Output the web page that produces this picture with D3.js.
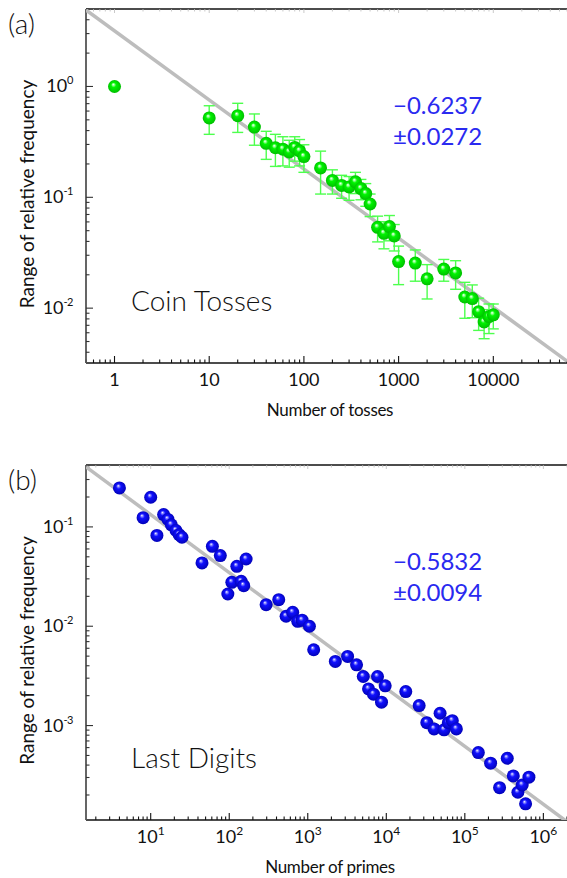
<!DOCTYPE html>
<html><head><meta charset="utf-8">
<script src="https://cdn.jsdelivr.net/npm/d3@7/dist/d3.min.js"></script>
<style>
html,body{margin:0;padding:0;background:#fff;}
svg text{font-family:Lato,"Open Sans",sans-serif;fill:#111;}
</style></head>
<body><svg id="c" width="567" height="878"></svg>
<script>
// ---- data: panel (a) coin tosses ----
const coinN     = [1,10,20,30,40,50,60,70,80,90,100,150,200,250,300,350,400,450,500,600,700,800,900,1000,1500,2000,3000,4000,5000,6000,7000,8000,9000,10000];
const coinRange = [1.0,0.52,0.545,0.43,0.307,0.28,0.272,0.257,0.282,0.262,0.233,0.184,0.142,0.128,0.124,0.138,0.12,0.108,0.087,0.0536,0.0473,0.0545,0.0448,0.0263,0.0255,0.0184,0.0225,0.0208,0.0126,0.0122,0.0093,0.0075,0.0084,0.0087];
const coinErr   = [0,0.15,0.16,0.135,0.087,0.09,0.08,0.07,0.07,0.07,0.065,0.077,0.035,0.03,0.03,0.03,0.025,0.025,0.02,0.014,0.013,0.014,0.012,0.01,0.008,0.0063,0.005,0.006,0.0045,0.004,0.003,0.0022,0.0025,0.0022];
const coinSlope = -0.6237, coinSlopeErr = 0.0272, coinPrefactor = 3.18;
const coinXTicks = [1,10,100,1000,10000];
const coinXTickLabels = ["1","10","100","1000","10000"];
const coinYTicks = [1,0.1,0.01];
const coinYExp = ["0","-1","-2"];

// ---- data: panel (b) last digits of primes ----
const primeN = [4,8,10,12,14.6,16.6,18.3,21,23,25,45,61,77,96,108,125,142,153,164,295,427,530,643,745,847,1050,1190,2244,3215,4180,5090,5940,6870,7730,8690,9680,17700,26200,32800,40600,48400,54400,61700,69300,78000,148600,213000,277000,347000,414000,474000,538000,594000,655000];
const primeRange = [0.247,0.124,0.199,0.082,0.133,0.119,0.105,0.092,0.0836,0.0787,0.0434,0.0638,0.0514,0.0211,0.0277,0.0401,0.0283,0.0256,0.0475,0.0165,0.0185,0.0126,0.0138,0.0112,0.0115,0.0100,0.0058,0.00442,0.00497,0.00409,0.00312,0.00234,0.00207,0.00312,0.00172,0.00251,0.0022,0.00159,0.00107,0.000926,0.00133,0.000906,0.00107,0.00112,0.000926,0.000535,0.000418,0.000237,0.000469,0.000311,0.000213,0.000252,0.000163,0.000302];
const primeSlope = -0.5832, primeSlopeErr = 0.0094, primePrefactor = 0.509;
const primeXTicks = [10,100,1000,10000,100000,1000000];
const primeXExp = ["1","2","3","4","5","6"];
const primeYTicks = [0.1,0.01,0.001];
const primeYExp = ["-1","-2","-3"];

const svg = d3.select("#c");
const defs = svg.append("defs");
function sphere(id, hi, mid, edge){
  const g = defs.append("radialGradient").attr("id",id)
    .attr("cx","50%").attr("cy","50%").attr("r","55%").attr("fx","40%").attr("fy","33%");
  g.append("stop").attr("offset","0%").attr("stop-color","#ffffff");
  g.append("stop").attr("offset","14%").attr("stop-color",hi);
  g.append("stop").attr("offset","35%").attr("stop-color",mid);
  g.append("stop").attr("offset","100%").attr("stop-color",edge);
}
sphere("gGreen","#9cff9c","#00f400","#00b800");
sphere("gBlue","#8c8cff","#1010ff","#0000b0");

function panel(cfg){
  const x = d3.scaleLog().domain(cfg.xDom).range([cfg.left, cfg.right]);
  const y = d3.scaleLog().domain(cfg.yDom).range([cfg.bottom, cfg.top]);
  const g = svg.append("g");
  function minors(dom){
    const out=[]; const lo=Math.floor(Math.log10(dom[0])), hi=Math.ceil(Math.log10(dom[1]));
    for(let e=lo;e<=hi;e++) for(let m=1;m<10;m++){const v=m*Math.pow(10,e); if(v>=dom[0]&&v<=dom[1]) out.push({v,major:m===1});}
    return out;
  }
  // top frame
  g.append("line").attr("x1",cfg.left).attr("x2",cfg.right).attr("y1",cfg.top).attr("y2",cfg.top)
    .attr("stroke","#111").attr("stroke-width",1.3);
  minors(cfg.xDom).forEach(t=>{
    g.append("line").attr("x1",x(t.v)).attr("x2",x(t.v)).attr("y1",cfg.top).attr("y2",cfg.top+(t.major?4:2.5))
     .attr("stroke","#bbb").attr("stroke-width",0.8);
  });
  // bottom axis
  g.append("line").attr("x1",cfg.left).attr("x2",cfg.right).attr("y1",cfg.bottom).attr("y2",cfg.bottom)
    .attr("stroke","#111").attr("stroke-width",1.6);
  minors(cfg.xDom).forEach(t=>{
    g.append("line").attr("x1",x(t.v)).attr("x2",x(t.v)).attr("y1",cfg.bottom).attr("y2",cfg.bottom-(t.major?7:3.5))
     .attr("stroke","#111").attr("stroke-width",1.1);
  });
  // left axis
  g.append("line").attr("x1",cfg.left).attr("x2",cfg.left).attr("y1",cfg.top).attr("y2",cfg.bottom)
    .attr("stroke","#555").attr("stroke-width",1.8);
  minors(cfg.yDom).forEach(t=>{
    g.append("line").attr("y1",y(t.v)).attr("y2",y(t.v)).attr("x1",cfg.left).attr("x2",cfg.left+(t.major?7:3.5))
     .attr("stroke","#333").attr("stroke-width",1.1);
  });
  // x tick labels
  cfg.xTicks.forEach((v,i)=>{
    const t = g.append("text").attr("x",x(v)).attr("y",cfg.bottom+23).attr("text-anchor","middle")
      .attr("font-size",18);
    if(cfg.xExp){ t.append("tspan").text("10"); t.append("tspan").attr("dy",-8).attr("font-size",12).text(cfg.xExp[i]); }
    else t.text(cfg.xLabels[i]);
  });
  // y tick labels
  cfg.yTicks.forEach((v,i)=>{
    const t = g.append("text").attr("x",cfg.left-13).attr("y",y(v)+6).attr("text-anchor","end").attr("font-size",18);
    t.append("tspan").text("10");
    t.append("tspan").attr("dy",-8).attr("font-size",11).attr("letter-spacing",-0.5).text(cfg.yExp[i]);
  });
  // axis titles
  g.append("text").attr("transform",`translate(${cfg.yTitleX},${(cfg.top+cfg.bottom)/2+8}) rotate(-90)`)
    .attr("text-anchor","middle").attr("font-size",19).text("Range of relative frequency");
  g.append("text").attr("x",cfg.xTitleX).attr("y",cfg.bottom+53).attr("text-anchor","middle")
    .attr("font-size",17).attr("letter-spacing",-0.3).text(cfg.xTitle);
  // panel tag
  g.append("text").attr("x",8).attr("y",cfg.top+25).attr("font-size",28).attr("font-weight",300).text(cfg.tag);
  // inner label
  g.append("text").attr("x",cfg.left+45).attr("y",cfg.labelY).attr("font-size",28).attr("font-weight",300)
    .text(cfg.label);
  // exponent annotation
  g.append("text").attr("x",cfg.annX).attr("y",cfg.annY).attr("font-size",24).attr("font-weight",400)
    .style("fill","#2a2af0").text("\u2212"+Math.abs(cfg.slope).toFixed(4));
  g.append("text").attr("x",cfg.annX).attr("y",cfg.annY+31).attr("font-size",24).attr("font-weight",400)
    .style("fill","#2a2af0").text("\u00b1"+cfg.slopeErr.toFixed(4));
  // clip for fit line
  const cid = "clip"+cfg.tag.replace(/\W/g,"");
  defs.append("clipPath").attr("id",cid).append("rect")
    .attr("x",cfg.left).attr("y",cfg.top).attr("width",cfg.right-cfg.left).attr("height",cfg.bottom-cfg.top);
  const fit = v => cfg.pref*Math.pow(v,cfg.slope);
  const xs = cfg.xDom;
  g.append("line").attr("clip-path",`url(#${cid})`)
    .attr("x1",x(xs[0])).attr("y1",y(fit(xs[0]))).attr("x2",x(xs[1])).attr("y2",y(fit(xs[1])))
    .attr("stroke","#bdbdbd").attr("stroke-width",3.5);
  // error bars
  if(cfg.err){
    cfg.n.forEach((v,i)=>{
      const e = cfg.err[i]; if(!e) return;
      const cx = x(v), y1 = y(cfg.r[i]+e), y2 = y(cfg.r[i]-e);
      const eg = g.append("g").attr("stroke","#4dff4d").attr("stroke-width",1.4);
      eg.append("line").attr("x1",cx).attr("x2",cx).attr("y1",y1).attr("y2",y2);
      eg.append("line").attr("x1",cx-5.5).attr("x2",cx+5.5).attr("y1",y1).attr("y2",y1);
      eg.append("line").attr("x1",cx-5.5).attr("x2",cx+5.5).attr("y1",y2).attr("y2",y2);
    });
  }
  // points
  g.selectAll("circle.p").data(cfg.n).enter().append("circle")
    .attr("cx",d=>x(d)).attr("cy",(d,i)=>y(cfg.r[i])).attr("r",6.5).attr("fill",`url(#${cfg.grad})`);
}

panel({tag:"(a)", xDom:[0.5,60000], yDom:[0.0032,5], left:86, right:567, top:9, bottom:363,
  n:coinN, r:coinRange, err:coinErr, grad:"gGreen", slope:coinSlope, slopeErr:coinSlopeErr, pref:coinPrefactor,
  xTicks:coinXTicks, xLabels:coinXTickLabels, yTicks:coinYTicks, yExp:coinYExp,
  xTitle:"Number of tosses", xTitleX:330, label:"Coin Tosses", labelY:311, annX:393, annY:114, yTitleX:34});

panel({tag:"(b)", xDom:[1.5,2e6], yDom:[1.12e-4,0.42], left:86, right:567, top:465, bottom:820,
  n:primeN, r:primeRange, err:null, grad:"gBlue", slope:primeSlope, slopeErr:primeSlopeErr, pref:primePrefactor,
  xTicks:primeXTicks, xExp:primeXExp, yTicks:primeYTicks, yExp:primeYExp,
  xTitle:"Number of primes", xTitleX:330, label:"Last Digits", labelY:768, annX:393, annY:570, yTitleX:34});
</script></body></html>
